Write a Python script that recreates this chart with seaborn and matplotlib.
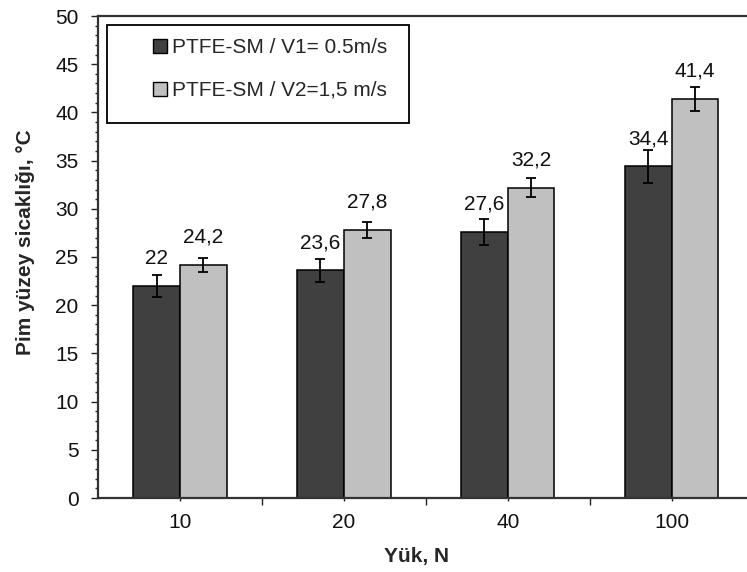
import numpy as np
import pandas as pd
import matplotlib
matplotlib.use("Agg")
import matplotlib.pyplot as plt
import seaborn as sns
from matplotlib.ticker import MultipleLocator, FixedLocator
from matplotlib.patches import Rectangle

# Data
loads = ["10", "20", "40", "100"]
series_names = ["PTFE-SM / V1= 0.5m/s", "PTFE-SM / V2=1,5 m/s"]
temp_v1 = [22, 23.6, 27.6, 34.4]
temp_v2 = [24.2, 27.8, 32.2, 41.4]
err_v1 = [1.1, 1.18, 1.38, 1.72]
err_v2 = [0.73, 0.83, 0.97, 1.24]
colors = ["#404040", "#C0C0C0"]

sns.set_theme(style="white")
plt.rcParams["font.family"] = ["Liberation Sans", "DejaVu Sans"]

W, H = 747, 572
FS = 15

df = pd.DataFrame({
    "load": loads * 2,
    "temp": temp_v1 + temp_v2,
    "series": [series_names[0]] * 4 + [series_names[1]] * 4,
})

fig = plt.figure(figsize=(W / 100, H / 100), dpi=100)
ax = fig.add_axes([98 / W, 1 - 498 / H, 1 - 98 / W, (498 - 16) / H])

sns.barplot(data=df, x="load", y="temp", hue="series", order=loads,
            hue_order=series_names, palette=colors, width=0.57,
            edgecolor="black", linewidth=1.1, errorbar=None, saturation=1,
            ax=ax)

errs = [err_v1, err_v2]
vals = [temp_v1, temp_v2]
for cont, e, v in zip(ax.containers, errs, vals):
    xs = [p.get_x() + p.get_width() / 2 for p in cont.patches]
    ax.errorbar(xs, v, yerr=e, fmt="none", ecolor="black", elinewidth=1.3,
                capsize=3.6, capthick=1.3, zorder=5)
    for x, y in zip(xs, v):
        lab = f"{y:g}".replace(".", ",")
        ax.annotate(lab, (x, y), xytext=(0, 16), textcoords="offset points",
                    ha="center", va="baseline", fontsize=FS, color="#111111")

ax.set_ylim(0, 50)
ax.set_xlim(-0.5, 3.46)
ax.yaxis.set_major_locator(MultipleLocator(5))
ax.yaxis.set_minor_locator(MultipleLocator(1))
ax.xaxis.set_minor_locator(FixedLocator([0.5, 1.5, 2.5]))
ax.tick_params(axis="y", which="major", direction="out", length=5, width=1,
               color="#222222", labelsize=FS, pad=9, left=True,
               labelcolor="#111111")
ax.tick_params(axis="y", which="minor", direction="out", length=2.4, width=1,
               color="#222222", left=True)
ax.tick_params(axis="x", which="major", direction="out", length=2, width=1,
               color="#222222", labelsize=FS, pad=9, bottom=True,
               labelcolor="#111111")
ax.tick_params(axis="x", which="minor", direction="out", length=5, width=1,
               color="#222222", bottom=True)

for s in ["left", "bottom", "top"]:
    ax.spines[s].set_visible(True)
    ax.spines[s].set_color("#333333")
    ax.spines[s].set_linewidth(1.6)
ax.spines["right"].set_visible(False)

ax.set_xlabel("Yük, N", fontsize=FS, fontweight="bold")
ax.xaxis.set_label_coords((417 - 98) / (W - 98), -(547 - 498) / 482)
ax.xaxis.label.set_va("top")
ax.set_ylabel("Pim yüzey sicaklığı, °C", fontsize=FS, fontweight="bold")
ax.yaxis.set_label_coords(-0.097, 0.53)

leg = ax.legend(loc="upper left", bbox_to_anchor=(153 / W, 1 - 38 / H),
                bbox_transform=fig.transFigure, borderaxespad=0, borderpad=0,
                frameon=False, fontsize=FS, handlelength=0.67,
                handleheight=0.67, handletextpad=0.25, labelspacing=1.15,
                title=None)
for h in leg.legend_handles:
    h.set_edgecolor("black")
    h.set_linewidth(1)
leg.set_zorder(10)

# legend box like the spreadsheet chart: wide left margin
fig.canvas.draw()
bb = leg.get_window_extent()
right = bb.x1 / W + 22 / W
box = Rectangle((107 / W, 1 - 123 / H), right - 107 / W, (123 - 25) / H,
                transform=fig.transFigure, facecolor="white",
                edgecolor="black", linewidth=1.3, zorder=8, clip_on=False)
ax.add_patch(box)

fig.savefig("out.png", dpi=100)
